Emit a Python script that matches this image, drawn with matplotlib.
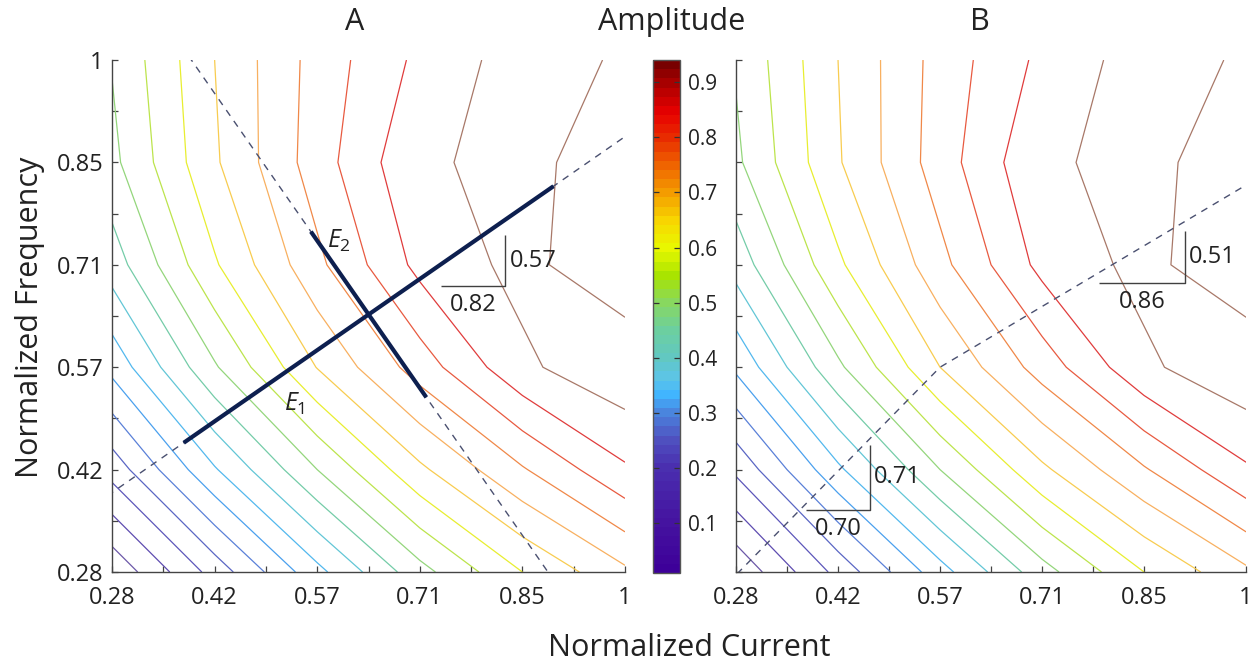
import numpy as np
import matplotlib
matplotlib.use("Agg")
import matplotlib.pyplot as plt
from matplotlib.colors import LinearSegmentedColormap, Normalize
from matplotlib.cm import ScalarMappable

plt.rcParams['font.family'] = ['Open Sans', 'DejaVu Sans']
plt.rcParams['mathtext.fontset'] = 'custom'
plt.rcParams['mathtext.rm'] = 'Open Sans'
plt.rcParams['mathtext.it'] = 'Open Sans:italic'

# sampling grid (normalized current on x, normalized frequency on y)
grid = [2 / 7, 3 / 7, 4 / 7, 5 / 7, 6 / 7, 1.0]
tick_labels = ['0.28', '0.42', '0.57', '0.71', '0.85', '1']
minor_ticks = [5 / 14, 7 / 14, 9 / 14, 11 / 14, 13 / 14]

# amplitude, rows = frequency (bottom -> top), columns = current (left -> right)
amp_A = [
    [0.01, 0.170, 0.335, 0.482, 0.600, 0.690],
    [0.17, 0.345, 0.500, 0.640, 0.745, 0.843],
    [0.315, 0.494, 0.652, 0.774, 0.890, 0.940],
    [0.424, 0.594, 0.738, 0.865, 0.915, 0.858],
    [0.487, 0.643, 0.776, 0.895, 0.910, 0.880],
    [0.503, 0.650, 0.770, 0.862, 0.925, 0.893],
]
amp_B = [
    [0.01, 0.165, 0.330, 0.480, 0.600, 0.690],
    [0.16, 0.340, 0.500, 0.640, 0.745, 0.843],
    [0.310, 0.490, 0.650, 0.772, 0.890, 0.940],
    [0.420, 0.590, 0.735, 0.865, 0.915, 0.858],
    [0.490, 0.645, 0.775, 0.895, 0.910, 0.880],
    [0.505, 0.650, 0.770, 0.862, 0.925, 0.893],
]

levels = [0.05, 0.10, 0.15, 0.20, 0.25, 0.30, 0.35, 0.40, 0.45,
          0.50, 0.55, 0.60, 0.65, 0.70, 0.75, 0.80, 0.85, 0.90]
line_colors = ['#6c58a8', '#5e4cb0', '#5c56ba', '#5a66c4', '#5a80d8', '#4aa0ee',
               '#52b8ee', '#62c6d6', '#74cca8', '#94d67c', '#bce44c', '#e8ee30',
               '#f8cc50', '#f8b060', '#f08848', '#e85a40', '#e03c3c', '#a87868']

amp_min, amp_max = 0.01, 0.94
cbar_ticks = [0.1, 0.2, 0.3, 0.4, 0.5, 0.6, 0.7, 0.8, 0.9]

# colormap anchors (amplitude -> colour)
cmap_vals = [0.01, 0.10, 0.20, 0.25, 0.30, 0.33, 0.36, 0.40, 0.45, 0.50,
             0.55, 0.60, 0.65, 0.70, 0.75, 0.80, 0.85, 0.90, 0.94]
cmap_cols = ['#3d0099', '#4514a0', '#4a30b0', '#4f52c0', '#4a88e0', '#40b4ff',
             '#5cc4e8', '#62c8c0', '#6ccfa0', '#88d860', '#a8e400', '#e8f800',
             '#f8d800', '#f4a000', '#f06800', '#e83000', '#e80000', '#b00000',
             '#780000']

# principal directions, panel A (centre, E1 / E2 unit vectors, half lengths)
centre_A = (0.643, 0.645)
e1_dir = (0.82, 0.57)
e2_dir = (-0.57, 0.82)
e1_half, e2_half = 0.314, 0.141

# panel B piecewise direction: kink point, lower and upper directions
kink_B = (4 / 7, 4 / 7)
low_dir_B = (0.70, 0.71)
up_dir_B = (0.86, 0.51)

# slope triangles: (x_left, x_right, y_bottom, y_top)
tri_A = (0.7443, 0.8332, 0.6849, 0.7556)
tri_B_up = (0.7946, 0.9140, 0.6894, 0.7617)
tri_B_low = (0.3836, 0.4730, 0.3729, 0.4627)

fig = plt.figure(figsize=(12.56, 6.67), dpi=100)
ax_a = fig.add_axes([0.0892, 0.1424, 0.4084, 0.7676])
ax_b = fig.add_axes([0.5860, 0.1424, 0.4061, 0.7676])
cax = fig.add_axes([0.5199, 0.1409, 0.0215, 0.7691])

cmap = LinearSegmentedColormap.from_list(
    'amp', [((v - amp_min) / (amp_max - amp_min), c) for v, c in zip(cmap_vals, cmap_cols)], N=56)
norm = Normalize(amp_min, amp_max)


def draw_panel(ax, amp, show_ylabels):
    ax.contour(grid, grid, np.array(amp), levels=levels, colors=line_colors, linewidths=0.9)
    ax.set_xlim(grid[0], grid[-1])
    ax.set_ylim(grid[0], grid[-1])
    for s in ['top', 'right']:
        ax.spines[s].set_visible(False)
    for s in ['left', 'bottom']:
        ax.spines[s].set_color('#444444')
        ax.spines[s].set_linewidth(1.0)
    ax.set_xticks(grid)
    ax.set_yticks(grid)
    ax.set_xticks(minor_ticks, minor=True)
    ax.set_yticks(minor_ticks, minor=True)
    ax.set_xticklabels(tick_labels, fontsize=17)
    if show_ylabels:
        ax.set_yticklabels(tick_labels, fontsize=17)
    else:
        ax.set_yticklabels([])
    ax.tick_params(which='both', direction='in', length=4, width=0.9, color='#444444')
    ax.tick_params(axis='x', which='major', pad=10, colors='#444444', labelcolor='#222222')
    ax.tick_params(axis='y', which='major', pad=6, colors='#444444', labelcolor='#222222')


def slope_triangle(ax, tri, lab_h, lab_v):
    x0, x1, y0, y1 = tri
    ax.plot([x0, x1, x1], [y0, y0, y1], color='#404040', lw=1.0, solid_capstyle='butt')
    ax.text(x1 + 0.006, (y0 + y1) / 2, lab_v, fontsize=17, color='#222222',
            ha='left', va='center')
    ax.text((x0 + x1) / 2, y0 - 0.027, lab_h, fontsize=17, color='#222222',
            ha='center', va='center')


draw_panel(ax_a, amp_A, True)
draw_panel(ax_b, amp_B, False)

# panel A: E1 / E2 axes
cx, cy = centre_A
for d, half in [(e1_dir, e1_half), (e2_dir, e2_half)]:
    ax_a.plot([cx - d[0], cx + d[0]], [cy - d[1], cy + d[1]], ls=(0, (5, 4.5)),
              color='#4a5070', lw=1.0)
    ax_a.plot([cx - half * d[0], cx + half * d[0]], [cy - half * d[1], cy + half * d[1]],
              color='#0d1f4f', lw=3.0, solid_capstyle='butt')
ax_a.text(0.6015, 0.7471, r'$E_{\mathit{2}}$', fontsize=18, color='#222222',
          ha='center', va='center')
ax_a.text(0.540, 0.5206, r'$E_{\mathit{1}}$', fontsize=18, color='#222222',
          ha='center', va='center')
slope_triangle(ax_a, tri_A, '0.82', '0.57')

# panel B: piecewise principal direction
kx, ky = kink_B
ax_b.plot([kx - low_dir_B[0], kx, kx + up_dir_B[0]],
          [ky - low_dir_B[1], ky, ky + up_dir_B[1]], ls=(0, (5, 4.5)),
          color='#4a5070', lw=1.0)
slope_triangle(ax_b, tri_B_up, '0.86', '0.51')
slope_triangle(ax_b, tri_B_low, '0.70', '0.71')

# colorbar
cb = fig.colorbar(ScalarMappable(norm=norm, cmap=cmap), cax=cax, ticks=cbar_ticks)
cb.outline.set_edgecolor('#555555')
cb.outline.set_linewidth(1.0)
cax.tick_params(direction='in', length=4, width=0.9, color='#333333', left=True, right=True,
                labelsize=15, pad=6, labelcolor='#222222')
cax.set_yticklabels([f'{t:.1f}' for t in cbar_ticks])

# titles and axis labels
fig.text(0.2826, 0.967, 'A', fontsize=22, ha='center', va='center', color='#222222')
fig.text(0.7800, 0.967, 'B', fontsize=22, ha='center', va='center', color='#222222')
fig.text(0.5350, 0.967, 'Amplitude', fontsize=22, ha='center', va='center', color='#222222')
fig.text(0.5486, 0.0285, 'Normalized Current', fontsize=22, ha='center', va='center',
         color='#222222')
fig.text(0.0239, 0.525, 'Normalized Frequency', fontsize=22, ha='center', va='center',
         rotation=90, color='#222222')

fig.savefig('out.png', dpi=100)
